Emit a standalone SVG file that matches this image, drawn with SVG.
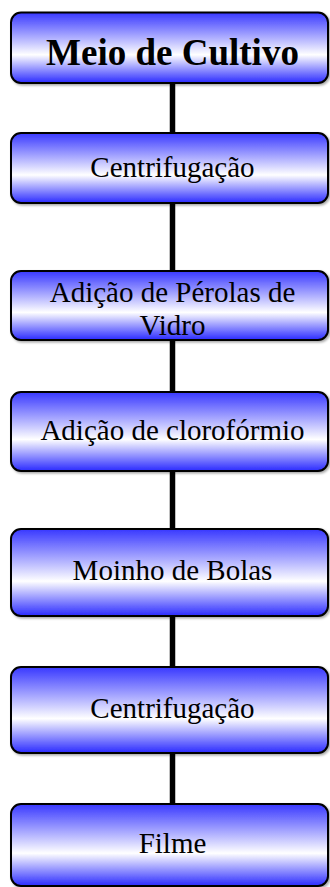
<svg xmlns="http://www.w3.org/2000/svg" width="330" height="887" viewBox="0 0 330 887">
<defs>
<linearGradient id="g" x1="0" y1="0" x2="0" y2="1">
<stop offset="0" stop-color="#3838ff"/>
<stop offset="0.6" stop-color="#ffffff"/>
<stop offset="1" stop-color="#2a2aff"/>
</linearGradient>
<filter id="sh" x="-5%" y="-10%" width="115%" height="130%">
<feDropShadow dx="1.5" dy="1.5" stdDeviation="0.8" flood-color="#000" flood-opacity="0.35"/>
</filter>
</defs>
<style>
.box{fill:url(#g);stroke:#000;stroke-width:2;filter:url(#sh)}
.t{font-size:29px;fill:#000;text-anchor:middle}
.b{font-weight:bold;font-size:37px}
.c{stroke:#000;stroke-width:5.5;fill:none}
</style>
<rect width="330" height="887" fill="#fff"/>
<g id="connectors">
<line class="c" x1="172.5" y1="83" x2="172.5" y2="133"/>
<line class="c" x1="172.5" y1="203" x2="172.5" y2="271"/>
<line class="c" x1="172.5" y1="340" x2="172.5" y2="392"/>
<line class="c" x1="172.5" y1="471" x2="172.5" y2="529"/>
<line class="c" x1="172.5" y1="616" x2="172.5" y2="667"/>
<line class="c" x1="172.5" y1="753" x2="172.5" y2="804"/>
</g>
<g font-family="'Liberation Serif', 'DejaVu Serif', serif">
<g id="n1"><rect class="box" x="11" y="12.5" width="317" height="70.5" rx="10"/><text class="t b" x="172.5" y="65">Meio de Cultivo</text></g>
<g id="n2"><rect class="box" x="11" y="133" width="317" height="70" rx="10"/><text class="t" x="172.5" y="177">Centrifugação</text></g>
<g id="n3"><rect class="box" x="11" y="271" width="317" height="69" rx="10"/><text class="t" x="172.5" y="302">Adição de Pérolas de</text><text class="t" x="172.5" y="335">Vidro</text></g>
<g id="n4"><rect class="box" x="11" y="392" width="317" height="79" rx="10"/><text class="t" x="172.5" y="440">Adição de clorofórmio</text></g>
<g id="n5"><rect class="box" x="11" y="529" width="317" height="87" rx="10"/><text class="t" x="172.5" y="580">Moinho de Bolas</text></g>
<g id="n6"><rect class="box" x="11" y="667" width="317" height="86" rx="10"/><text class="t" x="172.5" y="718">Centrifugação</text></g>
<g id="n7"><rect class="box" x="11" y="804" width="317" height="82" rx="10"/><text class="t" x="172.5" y="853">Filme</text></g>
</g>
</svg>
